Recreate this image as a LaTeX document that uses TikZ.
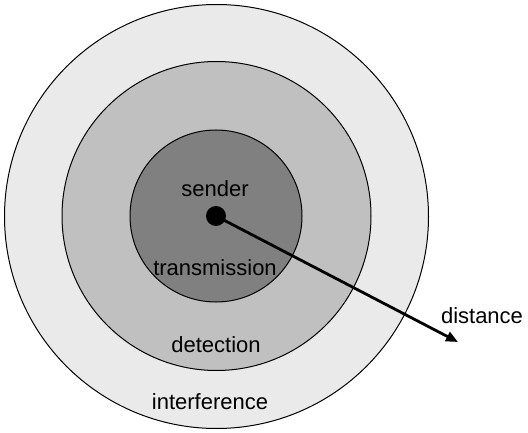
\documentclass[tikz,border=0pt]{standalone}
\usepackage{fontspec}
\setmainfont{Liberation Sans}
\usepackage{tikz}
\usetikzlibrary{positioning, arrows.meta}
\definecolor{outergray}{HTML}{EAEAEA}
\definecolor{midgray}{HTML}{C0C0C0}
\definecolor{innergray}{HTML}{808080}

\begin{document}
\begin{tikzpicture}[x=1pt,y=-1pt]
	% Define styles
	\tikzset{
		zone/.style={circle, draw, line width=1pt, inner sep=0pt},
		zonetext/.style={inner sep=0pt, font=\fontsize{22}{26}\selectfont},
		line/.style={draw, line width=2.8pt, -{Triangle[length=12pt,width=10pt]}}
	}
	\useasboundingbox (0,0) rectangle (528,433);
	% Circles
	\node[zone, fill=outergray, minimum size=424pt] (outer) at (216.5,216.5) {};
	\node[zone, fill=midgray, minimum size=309pt] (middle) at (216.5,216) {};
	\node[zone, fill=innergray, minimum size=172pt] (inner) at (216,216) {};
	\node[circle, fill=black, minimum size=20pt, inner sep=0pt] (dot) at (216,216) {};
	
	% Labels
	\node[zonetext] (sender) at (215,189) {sender};
	\node[zonetext] (transmission) at (215,268) {transmission};
	\node[zonetext] (detection) at (216,345) {detection};
	\node[zonetext] (interference) at (210,402) {interference};
	\node[zonetext] (distance) at (482,316) {distance};
	
	% Arrows
	\coordinate (tip) at (458,342);
	\draw[line] (dot.center) -- (tip);
\end{tikzpicture}
\end{document}
